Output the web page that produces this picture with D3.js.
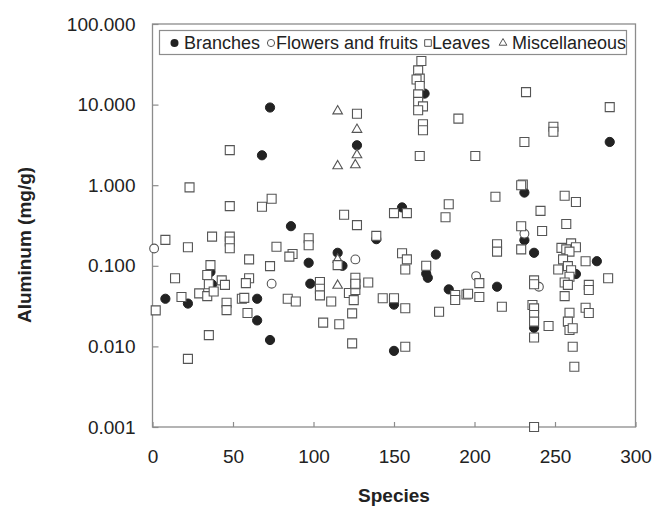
<!DOCTYPE html>
<meta charset="utf-8">
<head>
<script src="https://d3js.org/d3.v7.min.js"></script>
<style>
  body { margin: 0; background: #fff; }
  text { font-family: Arial, "Liberation Sans", sans-serif; fill: #222; }
</style>
</head>
<body>
<div id="chart"></div>
<script>

// [species, aluminum mg/g]
var branches = [
  [8, 0.039], [22, 0.034], [36, 0.084], [37, 0.059], [65, 0.039], [65, 0.021],
  [68, 2.35], [73, 9.2], [73, 0.012], [86, 0.31], [97, 0.109], [98, 0.060],
  [115, 0.145], [118, 0.100], [127, 3.13], [139, 0.214], [150, 0.033], [150, 0.0088],
  [155, 0.53], [169, 13.7], [170, 0.080], [171, 0.071], [176, 0.138], [184, 0.051],
  [214, 0.055], [231, 0.81], [231, 0.208], [237, 0.145], [237, 0.017], [263, 0.079],
  [276, 0.114], [284, 3.44]
];

var flowers = [
  [1, 0.164], [74, 0.060], [126, 0.12], [201, 0.0745], [231, 0.25], [240, 0.055]
];

var misc = [
  [115, 8.3], [127, 4.9], [127, 2.37], [115, 1.73], [126, 1.78], [115, 0.12], [115, 0.057]
];

var leaves = [
  [167, 34.7], [165, 26.6], [166, 21], [164, 20.5], [166, 17], [165, 13.4], [165, 10.8],
  [168, 9.5], [165, 8.5], [168, 5.7], [168, 4.8], [166, 2.3],
  [127, 7.7], [190, 6.7], [232, 14.3], [284, 9.3], [249, 5.3], [249, 4.6], [231, 3.43],
  [200.5, 2.3], [48, 2.72],
  [23, 0.94], [48, 0.55], [68, 0.54], [74, 0.68], [8, 0.21], [22, 0.17], [37, 0.23],
  [48, 0.23], [48, 0.2], [48, 0.165], [60, 0.12], [77, 0.172], [87, 0.14], [85, 0.13],
  [73, 0.099], [36, 0.102], [14, 0.07], [34, 0.077], [43, 0.066], [45, 0.058], [35, 0.059],
  [60, 0.070], [58, 0.061], [97, 0.22], [97, 0.18],
  [2, 0.028], [18, 0.041], [29, 0.0455], [34, 0.042], [38, 0.048], [46, 0.0348], [46, 0.0282],
  [55.5, 0.039], [57, 0.040], [59, 0.026], [35, 0.0138], [22, 0.007], [84, 0.039], [89, 0.036],
  [104, 0.063], [104, 0.052], [104, 0.043], [111, 0.036], [122, 0.046], [125, 0.0375],
  [126, 0.050], [126, 0.059], [134, 0.062], [124, 0.0257], [106, 0.0197], [116, 0.0188],
  [124, 0.0109], [143, 0.0395], [150, 0.0395], [157, 0.0297], [157, 0.0099], [178, 0.0269],
  [188, 0.0434], [188, 0.0377], [195, 0.044],
  [119, 0.43], [127, 0.32], [150, 0.45], [158, 0.45], [184, 0.58], [182, 0.40], [139, 0.235],
  [155, 0.143], [158, 0.12], [157, 0.090], [170, 0.10], [115, 0.102], [126, 0.071], [126, 0.060],
  [230, 1.02], [229, 1.0], [213, 0.72], [256, 0.74], [263, 0.62], [241, 0.48], [229, 0.31],
  [242, 0.27], [257, 0.33], [214, 0.185], [214, 0.15], [229, 0.16], [254, 0.167], [260, 0.19],
  [263, 0.17], [257, 0.16], [259, 0.15], [255, 0.12], [258, 0.099], [252, 0.090], [260, 0.088],
  [259, 0.073], [256, 0.062], [258, 0.058], [269, 0.114], [283, 0.070], [271, 0.058],
  [271, 0.050], [203, 0.061], [237, 0.066], [237, 0.059],
  [196, 0.045], [203, 0.041], [217, 0.031], [236, 0.0326], [237, 0.0296], [237, 0.0245],
  [237, 0.0203], [237, 0.0129], [246, 0.0179], [256, 0.042], [259, 0.0262], [258, 0.0203],
  [259, 0.016], [261, 0.0168], [261, 0.0099], [262, 0.0056], [269, 0.0302], [271, 0.026],
  [237, 0.001]
];

var xTicks = [0, 50, 100, 150, 200, 250, 300];
var yTicks = [0.001, 0.01, 0.1, 1, 10, 100];
var legendNames = ["Branches", "Flowers and fruits", "Leaves", "Miscellaneous"];

var W = 654, H = 508;
var pLeft = 152.5, pRight = 635.5, pTop = 24, pBottom = 427;

var svg = d3.select("#chart").append("svg")
    .attr("width", W).attr("height", H);

var x = d3.scaleLinear().domain([0, 300]).range([pLeft, pRight]);
var y = d3.scaleLog().domain([0.001, 100]).range([pBottom, pTop]);

// frame
svg.append("rect")
    .attr("x", pLeft).attr("y", pTop)
    .attr("width", pRight - pLeft).attr("height", pBottom - pTop)
    .attr("fill", "none").attr("stroke", "#8c8c8c").attr("stroke-width", 1.3);

var yAxis = svg.append("g")
    .attr("transform", "translate(" + pLeft + ",0)")
    .call(d3.axisLeft(y).tickValues(yTicks).tickFormat(d3.format(".3f"))
        .tickSize(-6).tickPadding(17));
var xAxis = svg.append("g")
    .attr("transform", "translate(0," + pBottom + ")")
    .call(d3.axisBottom(x).tickValues(xTicks).tickFormat(d3.format("d"))
        .tickSize(-5).tickPadding(23));

[yAxis, xAxis].forEach(function (g) {
    g.select(".domain").remove();
    g.selectAll(".tick line").attr("stroke", "#8c8c8c").attr("stroke-width", 1.2);
    g.selectAll(".tick text").style("font-size", "19px").attr("fill", "#222")
        .style("font-family", "Arial, 'Liberation Sans', sans-serif");
});

// axis titles
svg.append("text")
    .attr("x", (pLeft + pRight) / 2).attr("y", 502)
    .attr("text-anchor", "middle")
    .style("font-size", "19px").style("font-weight", "bold")
    .text("Species");
svg.append("text")
    .attr("transform", "translate(31,245) rotate(-90)")
    .attr("text-anchor", "middle")
    .style("font-size", "19px").style("font-weight", "bold")
    .text("Aluminum (mg/g)");

var sq = d3.symbol().type(d3.symbolSquare).size(81);
var tri = d3.symbol().type(d3.symbolTriangle).size(40);

var plot = svg.append("g");

plot.selectAll(".br").data(branches).join("circle")
    .attr("cx", function (d) { return x(d[0]); })
    .attr("cy", function (d) { return y(d[1]); })
    .attr("r", 4.6).attr("fill", "#222").attr("stroke", "#222");

plot.selectAll(".fl").data(flowers).join("circle")
    .attr("cx", function (d) { return x(d[0]); })
    .attr("cy", function (d) { return y(d[1]); })
    .attr("r", 4.4).attr("fill", "#fff").attr("stroke", "#555").attr("stroke-width", 1.1);

plot.selectAll(".mi").data(misc).join("path")
    .attr("d", tri)
    .attr("transform", function (d) { return "translate(" + x(d[0]) + "," + y(d[1]) + ")"; })
    .attr("fill", "#fff").attr("stroke", "#555").attr("stroke-width", 1.1);

plot.selectAll(".le").data(leaves).join("path")
    .attr("d", sq)
    .attr("transform", function (d) { return "translate(" + x(d[0]) + "," + y(d[1]) + ")"; })
    .attr("fill", "#fff").attr("stroke", "#555").attr("stroke-width", 1.1);

// legend
var lg = svg.append("g");
lg.append("rect")
    .attr("x", 159.5).attr("y", 30.5).attr("width", 467).attr("height", 24)
    .attr("fill", "#fff").attr("stroke", "#8c8c8c").attr("stroke-width", 1.2);

var markX = [174.5, 271, 428, 503];
var textX = [184, 276, 432, 512];
lg.append("circle").attr("cx", markX[0]).attr("cy", 43).attr("r", 4)
    .attr("fill", "#222");
lg.append("circle").attr("cx", markX[1]).attr("cy", 43).attr("r", 3.6)
    .attr("fill", "#fff").attr("stroke", "#555");
lg.append("path").attr("d", d3.symbol().type(d3.symbolSquare).size(44))
    .attr("transform", "translate(" + markX[2] + ",43)")
    .attr("fill", "#fff").attr("stroke", "#555");
lg.append("path").attr("d", d3.symbol().type(d3.symbolTriangle).size(26))
    .attr("transform", "translate(" + markX[3] + ",43)")
    .attr("fill", "#fff").attr("stroke", "#555");

legendNames.forEach(function (name, i) {
    lg.append("text").attr("x", textX[i]).attr("y", 48.5)
        .style("font-size", "18px").text(name);
});

</script>
</body>
</html>
